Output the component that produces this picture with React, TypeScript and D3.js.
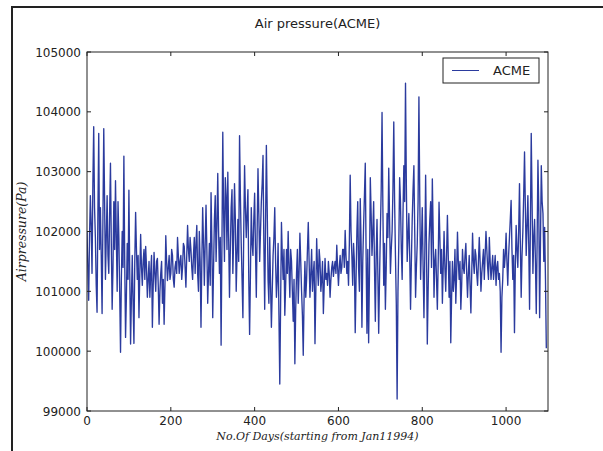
import React from "react";
import * as d3 from "d3";

const DAY_STEP = 2;
const pressure: number[] = [
  102000, 101400, 100850, 101900, 102600, 102100, 101300, 102800, 103750, 102400, 101900, 101100, 100650, 102300, 103640, 101700, 102400, 101600, 100630, 102200,
  103720, 102500, 101200, 101900, 102600, 101600, 101300, 102300, 103140, 101800, 100700, 101400, 102500, 101700, 102850, 101900, 101000, 102500, 101900, 101000,
  99980, 101200, 102000, 101400, 103260, 101500, 100230, 100900, 101800, 101200, 102690, 101300, 100120, 100900, 101600, 100800, 100130, 101500, 102320, 101700,
  101200, 101600, 100560, 101300, 101950, 101400, 101100, 101500, 101700, 101200, 101750, 101400, 100900, 101200, 101500, 100900, 101300, 101600, 100400, 101100,
  101650, 101300, 101000, 101500, 101550, 101100, 100450, 101000, 101300, 101500, 100800, 101200, 100450, 101100, 101930, 101500, 101180, 101400, 101600, 101200,
  101300, 101700, 101600, 101200, 101070, 101400, 101500, 101300, 101900, 101600, 101300, 101500, 101600, 101200, 101400, 101800, 101750, 101400, 101070, 101600,
  102100, 101700, 101500, 101900, 101700, 101400, 101200, 101600, 101900, 101300, 101800, 102100, 101300, 101000, 102000, 101500, 100400, 101500, 102400, 101800,
  101100, 101800, 102440, 101700, 100800, 101300, 101800, 101100, 102650, 101800, 100560, 101400, 102200, 102600, 101500, 102100, 102970, 102000, 101300, 101900,
  100100, 101800, 103660, 102300, 101500, 102900, 102600, 101700, 102990, 101900, 100900, 101700, 102400, 102700, 101300, 101900, 102800, 102200, 101000, 101600,
  102200, 101500, 103600, 102600, 101800, 101200, 100560, 102000, 103100, 102400, 101900, 102300, 102700, 101200, 100280, 101300, 102400, 101800, 101600, 102200,
  102640, 101700, 100900, 102000, 103050, 102300, 101500, 102000, 102500, 102800, 103270, 101800, 100700, 102100, 103440, 102400, 101200, 100800, 101900, 101100,
  100400, 101000, 101600, 101900, 102400, 101500, 100900, 101200, 101800, 100600, 99450, 100800, 102150, 101600, 101200, 101700, 100600, 101100, 101700, 101300,
  102000, 101400, 100900, 101700, 101500, 101000, 100500, 101200, 99790, 100700, 101300, 101700, 100800, 101300, 101970, 101500, 101000, 100600, 99930, 100900,
  101500, 100900, 101200, 101700, 102150, 101500, 100900, 101300, 101700, 101000, 101300, 101500, 100125, 101000, 101880, 101400, 101100, 101700, 101500, 101000,
  101200, 101500, 100630, 101100, 101550, 101200, 101300, 101100, 101500, 101300, 100900, 101200, 101400, 101500, 101250, 101400, 101500, 101300, 101770, 101400,
  101100, 101400, 101600, 101300, 101400, 101700, 101700, 101400, 102020, 101600, 101300, 101500, 101100, 101800, 102940, 102000, 101600, 101100, 101800, 101500,
  100310, 101200, 102000, 102500, 101400, 101000, 102550, 101800, 100400, 101500, 102100, 102600, 103140, 101600, 100300, 101700, 100140, 101300, 102900, 102300,
  101600, 102000, 102500, 101400, 100500, 101600, 102200, 101300, 100300, 101200, 102000, 102700, 103990, 102400, 101100, 101800, 100700, 101400, 102300, 101900,
  103060, 102200, 101300, 101700, 102000, 102700, 103830, 102500, 101600, 100800, 99200, 101000, 101800, 102900, 102500, 101700, 101200, 102300, 103100, 102500,
  104480, 102800, 101500, 101900, 102300, 101600, 100700, 101500, 102200, 102700, 103100, 102000, 100900, 101400, 101800, 102500, 104250, 102600, 101200, 101800,
  102400, 101400, 100560, 101600, 102940, 101800, 100120, 101000, 101800, 102200, 102500, 101400, 102880, 102000, 100900, 101500, 101700, 101200, 100700, 101500,
  102490, 101900, 101300, 101700, 100800, 101400, 102000, 101400, 101000, 101600, 102270, 101600, 100900, 101500, 100140, 100900, 101500, 101000, 101200, 101700,
  100800, 101300, 101990, 101500, 101200, 101500, 100700, 101100, 101700, 101400, 101300, 101600, 101800, 101300, 100900, 101300, 101600, 101100, 100640, 101300,
  101970, 101500, 101300, 101700, 101600, 101300, 101100, 101500, 101900, 101500, 101000, 101300, 101500, 101700, 101200, 101600, 102000, 101700, 101400, 101200,
  101900, 101500, 101200, 101400, 101600, 101200, 101400, 101600, 101100, 101400, 101500, 101200, 101300, 101000, 99980, 100900, 101200, 101700, 101400, 101600,
  101970, 101500, 101100, 101600, 101900, 102200, 102520, 101700, 101200, 101600, 100310, 101400, 102100, 101700, 101400, 102000, 102800, 101800, 100900, 101600,
  102000, 102600, 103330, 102400, 101600, 102100, 102600, 101800, 100700, 102100, 103640, 102500, 101300, 101900, 102200, 101500, 100630, 101800, 103190, 102400,
  100560, 101800, 103100, 102500, 102300, 101500, 102070, 101200, 100050,
];
const xTicks = [0, 200, 400, 600, 800, 1000];
const yTicks = [99000, 100000, 101000, 102000, 103000, 104000, 105000];
const seriesName = "ACME";
const title = "Air pressure(ACME)";

export default function App() {
  const W = 603, H = 451;
  const L = 87, R = 548, T = 52, B = 411;
  const x = d3.scaleLinear().domain([0, 1100]).range([L, R]);
  const y = d3.scaleLinear().domain([99000, 105000]).range([B, T]);
  const line = d3
    .line<number>()
    .x((_, i) => x(i * DAY_STEP))
    .y((d) => y(d));
  const color = "#2b3b9e";
  const sans = "'DejaVu Sans', sans-serif";
  const serif = "'DejaVu Serif', serif";
  return (
    <svg width={W} height={H} style={{ position: "absolute", left: 0, top: 0, background: "#fff" }}>
      <rect x={0} y={0} width={W} height={H} fill="#fff" />
      <rect x={12} y={7} width={700} height={600} fill="none" stroke="#222" strokeWidth={2} />
      <text x={(L + R) / 2} y={28} textAnchor="middle" fontFamily={sans} fontSize={13} fill="#222">
        {title}
      </text>
      <defs>
        <clipPath id="plotclip">
          <rect x={L} y={T} width={R - L} height={B - T} />
        </clipPath>
      </defs>
      <path d={line(pressure) || ""} fill="none" stroke={color} strokeWidth={1.35} strokeLinejoin="round" clipPath="url(#plotclip)" />
      <rect x={L} y={T} width={R - L} height={B - T} fill="none" stroke="#222" strokeWidth={1} />
      {xTicks.map((t) => (
        <g key={"x" + t}>
          <line x1={x(t)} x2={x(t)} y1={B} y2={B - 4} stroke="#222" />
          <line x1={x(t)} x2={x(t)} y1={T} y2={T + 4} stroke="#222" />
          <text x={x(t)} y={425} textAnchor="middle" fontFamily={sans} fontSize={12} fill="#222">
            {t}
          </text>
        </g>
      ))}
      {yTicks.map((t) => (
        <g key={"y" + t}>
          <line x1={L} x2={L + 4} y1={y(t)} y2={y(t)} stroke="#222" />
          <line x1={R} x2={R - 4} y1={y(t)} y2={y(t)} stroke="#222" />
          <text x={81} y={y(t) + 4.5} textAnchor="end" fontFamily={sans} fontSize={12} fill="#222">
            {t}
          </text>
        </g>
      ))}
      <text x={(L + R) / 2} y={440} textAnchor="middle" fontFamily={serif} fontStyle="italic" fontSize={11} fill="#222">
        No.Of Days(starting from Jan11994)
      </text>
      <text
        transform={`translate(26, ${(T + B) / 2}) rotate(-90)`}
        textAnchor="middle"
        fontFamily={serif}
        fontStyle="italic"
        fontSize={12.5}
        fill="#222"
      >
        Airpressure(Pa)
      </text>
      <rect x={443} y={58} width={96} height={25} fill="#fff" stroke="#222" strokeWidth={1} />
      <line x1={452} x2={479} y1={70.5} y2={70.5} stroke={color} strokeWidth={1} />
      <text x={493} y={75} fontFamily={sans} fontSize={13} fill="#222">
        {seriesName}
      </text>
    </svg>
  );
}
